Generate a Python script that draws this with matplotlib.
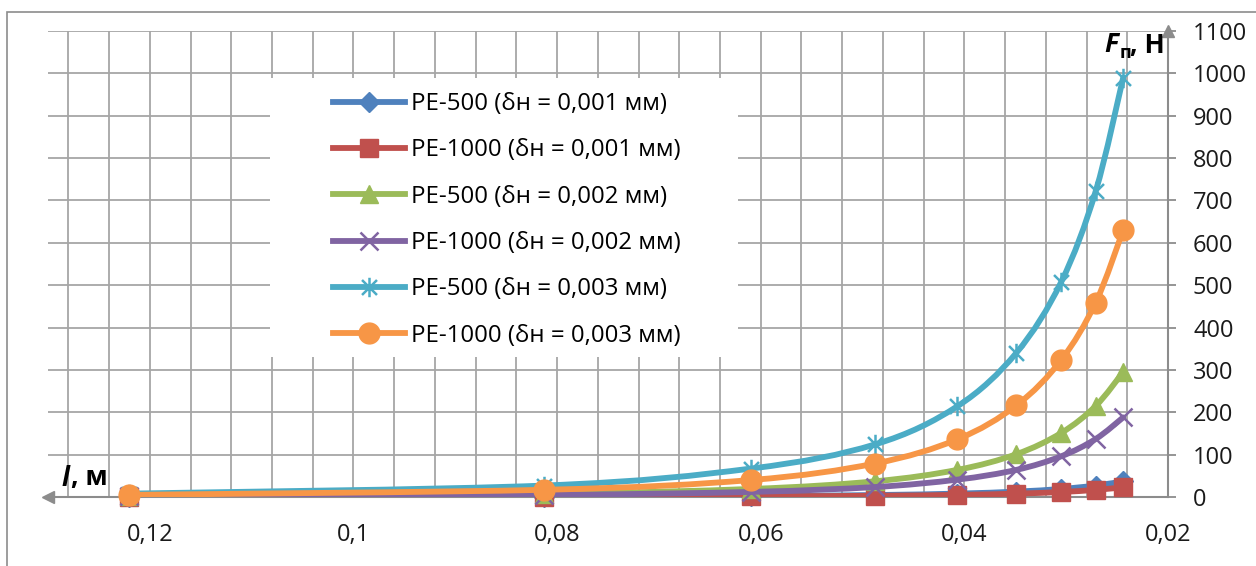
import numpy as np
import matplotlib
matplotlib.use("Agg")
import matplotlib.pyplot as plt
from matplotlib.path import Path
from matplotlib.patches import PathPatch, Rectangle
from matplotlib.lines import Line2D
from matplotlib.ticker import MultipleLocator, FuncFormatter

plt.rcParams['font.family'] = ['Open Sans', 'DejaVu Sans']

# length l, m
l_m = [0.122, 0.0813, 0.061, 0.0488, 0.0407, 0.0349, 0.0305, 0.0271, 0.0244]

# force F_п, N
pe500_1 = [0.3, 1.0, 2.4, 4.6, 8.0, 12.7, 19, 27, 37]
pe1000_1 = [0.2, 0.6, 1.5, 2.9, 5.0, 7.9, 11.8, 16.8, 23]
pe500_2 = [2.4, 8, 19, 37, 64, 101, 151, 215, 295]
pe1000_2 = [1.5, 5, 12, 23.5, 41, 64, 96, 137, 188]
pe500_3 = [8, 27, 67, 124, 214, 340, 507, 722, 990]
pe1000_3 = [5, 17, 40, 79, 136, 216, 323, 459, 630]

labels = ['PE-500 (δн = 0,001 мм)', 'PE-1000 (δн = 0,001 мм)',
          'PE-500 (δн = 0,002 мм)', 'PE-1000 (δн = 0,002 мм)',
          'PE-500 (δн = 0,003 мм)', 'PE-1000 (δн = 0,003 мм)']
series = [pe500_1, pe1000_1, pe500_2, pe1000_2, pe500_3, pe1000_3]
colors = ['#4F81BD', '#C0504D', '#9BBB59', '#8064A2', '#4BACC6', '#F79646']

# excel-like asterisk: x plus vertical bar
star = Path([(-1, -1), (1, 1), (-1, 1), (1, -1), (0, -1.3), (0, 1.3)],
            [Path.MOVETO, Path.LINETO, Path.MOVETO, Path.LINETO, Path.MOVETO, Path.LINETO])
markers = ['D', 's', '^', 'x', star, 'o']
msizes = [10, 13, 13, 13, 14, 15]

W, H = 1256, 566


def smooth(xs, ys):
    # catmull-rom -> cubic bezier, like excel's smoothed line
    p = np.column_stack([xs, ys])
    verts = [p[0]]
    codes = [Path.MOVETO]
    n = len(p)
    for i in range(n - 1):
        p0 = p[i - 1] if i > 0 else p[i]
        p3 = p[i + 2] if i + 2 < n else p[i + 1]
        verts += [p[i] + (p[i + 1] - p0) / 6, p[i + 1] - (p3 - p[i]) / 6, p[i + 1]]
        codes += [Path.CURVE4] * 3
    return Path(verts, codes)


fig = plt.figure(figsize=(W / 100, H / 100), dpi=100)
fig.patches.append(Rectangle((7 / W, -0.1), 1.2, 1.1 - 12 / H, transform=fig.transFigure,
                             fill=False, edgecolor='#8c8c8c', lw=1.2))

ax = fig.add_axes([48 / W, 1 - 497 / H, (1168 - 48) / W, (497 - 31) / H])
ax.set_xlim(0.13, 0.02)
ax.set_ylim(0, 1100)

ax.xaxis.set_major_locator(MultipleLocator(0.02))
ax.xaxis.set_minor_locator(MultipleLocator(0.004))
ax.yaxis.set_major_locator(MultipleLocator(100))
ax.xaxis.set_major_formatter(FuncFormatter(lambda v, p: f"{round(v, 3):g}".replace('.', ',')))
ax.yaxis.tick_right()
ax.set_axisbelow(True)
ax.grid(which='both', axis='x', color='#a6a6a6', lw=1.3)
ax.grid(which='major', axis='y', color='#a6a6a6', lw=1.3)
ax.tick_params(axis='x', which='both', length=0, pad=19, labelsize=17, colors='#1a1a1a')
ax.tick_params(axis='y', length=6, width=1.3, pad=12, labelsize=17, color='#8c8c8c',
               labelcolor='#1a1a1a')

for s in ['top', 'left']:
    ax.spines[s].set_visible(False)
for s in ['bottom', 'right']:
    ax.spines[s].set_color('#8c8c8c')
    ax.spines[s].set_linewidth(1.5)

# axis arrows
ax.plot([0], [0], marker='<', ms=9, color='#8c8c8c', transform=ax.transAxes, clip_on=False)
ax.plot([1], [1], marker='^', ms=9, color='#8c8c8c', transform=ax.transAxes, clip_on=False)

handles = []
for i, (ys, c, m, ms) in enumerate(zip(series, colors, markers, msizes)):
    z = 3 + i
    ax.add_patch(PathPatch(smooth(l_m, ys), fill=False, edgecolor=c, lw=4.2,
                           capstyle='round', joinstyle='round', zorder=z))
    if m in ('x',) or m is star:
        ax.plot(l_m, ys, ls='none', marker=m, ms=ms, mec=c, mew=1.8, zorder=z + 0.5, clip_on=False)
        handles.append(Line2D([], [], color=c, lw=4.2, marker=m, ms=ms, mec=c, mew=1.8))
    else:
        ax.plot(l_m, ys, ls='none', marker=m, ms=ms, mfc=c, mec=c, zorder=z + 0.5, clip_on=False)
        handles.append(Line2D([], [], color=c, lw=4.2, marker=m, ms=ms, mfc=c, mec=c))

# white legend area
fig.patches.append(Rectangle((270 / W, 1 - 357 / H), (738 - 270) / W, (357 - 78) / H,
                             transform=fig.transFigure, facecolor='white', edgecolor='none',
                             zorder=1))
fig.legend(handles, labels, loc='upper left', bbox_to_anchor=(333 / W, 1 - 92 / H),
           frameon=False, fontsize=17.3, handlelength=3.0, handletextpad=0.25,
           labelspacing=0.93, borderaxespad=0, borderpad=0)

# axis titles
fig.text(1104 / W, 1 - 45 / H, 'F', fontsize=19, fontweight='bold', style='italic',
         va='center', ha='left')
fig.text(1120 / W, 1 - 53 / H, 'п', fontsize=13, fontweight='bold', va='center', ha='left')
fig.text(1130 / W, 1 - 45 / H, ', Н', fontsize=19, fontweight='bold', va='center', ha='left')
fig.text(62 / W, 1 - 478 / H, 'l', fontsize=19, fontweight='bold', style='italic',
         va='center', ha='left')
fig.text(71 / W, 1 - 478 / H, ', м', fontsize=19, fontweight='bold', va='center', ha='left')

fig.savefig('out.png', dpi=100)
